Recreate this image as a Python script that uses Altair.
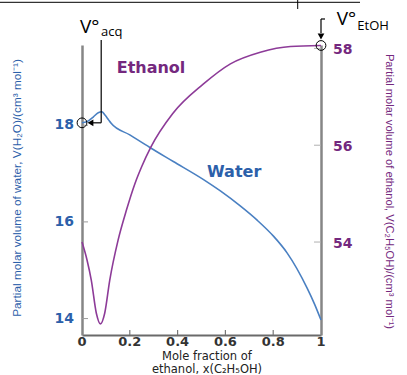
import altair as alt
import pandas as pd

# ---------------- data ----------------
water_x = [0.000, 0.020, 0.047, 0.068, 0.083, 0.096, 0.110, 0.122, 0.200, 0.284,
           0.382, 0.507, 0.579, 0.662, 0.734, 0.802, 0.858, 0.942, 0.973, 1.000]
water_v = [18.05, 18.07, 18.17, 18.26, 18.28, 18.21, 18.12, 18.04, 17.80, 17.54,
           17.25, 16.88, 16.64, 16.33, 16.03, 15.70, 15.36, 14.63, 14.30, 13.97]

eth_x = [0.000, 0.021, 0.039, 0.060, 0.077, 0.095, 0.116, 0.151, 0.186, 0.221,
         0.250, 0.288, 0.379, 0.507, 0.621, 0.746, 0.872, 1.000]
eth_v = [54.00, 53.63, 53.21, 52.53, 52.31, 52.53, 53.21, 54.04, 54.66, 55.20,
         55.56, 55.96, 56.65, 57.26, 57.68, 57.92, 58.04, 58.06]

x_ticks = [0, 0.2, 0.4, 0.6, 0.8, 1]
x_tick_labels = ["0", "0.2", "0.4", "0.6", "0.8", "1"]
x_inner_ticks = [0.2, 0.4, 0.6, 0.8]
water_ticks = [14, 16, 18]
water_tick_labels = ["14", "16", "18"]
eth_ticks = [54, 56, 58]
eth_tick_labels = ["54", "56", "58"]

x_title_lines = ["Mole fraction of", "ethanol, x(C₂H₅OH)"]
water_title = "Partial molar volume of water, V(H₂O)/(cm³ mol⁻¹)"
eth_title = "Partial molar volume of ethanol, V(C₂H₅OH)/(cm³ mol⁻¹)"

V_WATER = water_v[0]   # pure water
V_ETOH = eth_v[-1]     # pure ethanol

# ---------------- styling ----------------
BLUE_LINE = "#4a80c2"
PURPLE_LINE = "#8d3b98"
BLUE_TEXT = "#2c60aa"
PURPLE_TEXT = "#74287e"
AXIS_GRAY = "#868686"
TICK_GRAY = "#9a9a9a"

W, H = 239, 290

x_scale = alt.Scale(domain=[0, 1], nice=False, zero=False)
yw_scale = alt.Scale(domain=[13.66, 19.66], nice=False, zero=False)
ye_scale = alt.Scale(domain=[52.08, 58.07], nice=False, zero=False)

x_axis = alt.Axis(orient="bottom", domain=True, domainColor="#6a6a6a", domainWidth=2,
                  ticks=False, labels=False, grid=False, title=None)
yw_axis = alt.Axis(orient="left", domain=True, domainColor=AXIS_GRAY, domainWidth=2.5,
                   ticks=False, labels=False, grid=False, title=None)
ye_axis = alt.Axis(orient="right", domain=True, domainColor=AXIS_GRAY, domainWidth=2.5,
                   ticks=False, labels=False, grid=False, title=None)


def X(field):
    return alt.X(field, type="quantitative", scale=x_scale, axis=x_axis)


def YW(field):
    return alt.Y(field, type="quantitative", scale=yw_scale, axis=None)


def YE(field):
    return alt.Y(field, type="quantitative", scale=ye_scale, axis=None)


one = alt.Data(values=[{"k": 0}])

water_df = pd.DataFrame({"x": water_x, "v": water_v})
eth_df = pd.DataFrame({"x": eth_x, "v": eth_v})

layers = []

# curves (carry the two axes)
layers.append(alt.Chart(water_df).mark_line(color=BLUE_LINE, strokeWidth=1.6, interpolate="monotone")
              .encode(x=X("x"), y=alt.Y("v:Q", scale=yw_scale, axis=yw_axis)))
layers.append(alt.Chart(eth_df).mark_line(color=PURPLE_LINE, strokeWidth=1.6, interpolate="monotone")
              .encode(x=X("x"), y=alt.Y("v:Q", scale=ye_scale, axis=ye_axis)))

# inward ticks
layers.append(alt.Chart(pd.DataFrame({"t": water_ticks})).mark_rule(color=TICK_GRAY, strokeWidth=1)
              .encode(x=alt.value(0), x2=alt.value(6), y=YW("t")))
layers.append(alt.Chart(pd.DataFrame({"t": eth_ticks})).mark_rule(color="#b0b0b0", strokeWidth=1)
              .encode(x=alt.value(W - 7), x2=alt.value(W), y=YE("t")))
layers.append(alt.Chart(pd.DataFrame({"t": x_inner_ticks})).mark_rule(color="#777777", strokeWidth=1.2)
              .encode(x=X("t"), y=alt.value(H), y2=alt.value(H - 5)))

# tick labels
layers.append(alt.Chart(pd.DataFrame({"t": x_ticks, "lab": x_tick_labels}))
              .mark_text(font="DejaVu Sans", fontWeight="bold", fontSize=13,
                         color="#333333", align="center", baseline="middle")
              .encode(x=X("t"), y=alt.value(H + 6.5), text="lab:N"))
layers.append(alt.Chart(pd.DataFrame({"t": water_ticks, "lab": water_tick_labels}))
              .mark_text(font="DejaVu Sans", fontWeight="bold", fontSize=14,
                         color=BLUE_TEXT, align="right", baseline="middle")
              .encode(x=alt.value(-8), y=YW("t"), text="lab:N"))
layers.append(alt.Chart(pd.DataFrame({"t": eth_ticks, "lab": eth_tick_labels}))
              .mark_text(font="DejaVu Sans", fontWeight="bold", fontSize=14,
                         color=PURPLE_TEXT, align="left", baseline="middle", dy=2)
              .encode(x=alt.value(W + 12), y=YE("t"), text="lab:N"))

# pure-component markers
layers.append(alt.Chart(pd.DataFrame({"x": [0], "v": [V_WATER]}))
              .mark_point(shape="circle", filled=False, color="black", strokeWidth=1, size=95, opacity=1)
              .encode(x=X("x"), y=YW("v")))
layers.append(alt.Chart(pd.DataFrame({"x": [1], "v": [V_ETOH]}))
              .mark_point(shape="circle", filled=False, color="black", strokeWidth=1, size=95, opacity=1)
              .encode(x=X("x"), y=YE("v")))

# arrow to V°(water)
yw_datum = alt.YDatum(V_WATER, scale=yw_scale, axis=None)
layers.append(alt.Chart(one).mark_rule(color="black", strokeWidth=1.2)
              .encode(x=alt.value(19.2), y=yw_datum, y2=alt.value(-5)))
layers.append(alt.Chart(one).mark_rule(color="black", strokeWidth=1.2)
              .encode(x=alt.value(19.2), x2=alt.value(11), y=yw_datum))
layers.append(alt.Chart(one).mark_point(shape="triangle-left", filled=True, color="black", size=45, opacity=1)
              .encode(x=alt.value(8.5), y=yw_datum))

# arrow to V°(ethanol)
x_one = alt.XDatum(1, scale=x_scale, axis=x_axis)
layers.append(alt.Chart(one).mark_rule(color="black", strokeWidth=1.2)
              .encode(x=x_one, x2=alt.value(W + 4), y=alt.value(-26)))
layers.append(alt.Chart(one).mark_rule(color="black", strokeWidth=1.2)
              .encode(x=x_one, y=alt.value(-26), y2=alt.value(-12)))
layers.append(alt.Chart(one).mark_point(shape="triangle-down", filled=True, color="black", size=45, opacity=1)
              .encode(x=x_one, y=alt.value(-8.5)))

# top frame line with its small tick
layers.append(alt.Chart(one).mark_rule(color="black", strokeWidth=1)
              .encode(x=alt.value(-82), x2=alt.value(278), y=alt.value(-42.7)))
layers.append(alt.Chart(one).mark_rule(color="black", strokeWidth=1)
              .encode(x=alt.value(215.7), y=alt.value(-45), y2=alt.value(-36)))


def label(text, x, y, **kw):
    return alt.Chart(one).mark_text(text=text, **kw).encode(x=alt.value(x), y=alt.value(y))


# series labels
layers.append(label("Ethanol", 34.7, 28.3, align="left", baseline="alphabetic", font="DejaVu Sans",
                    fontWeight="bold", fontSize=16, color=PURPLE_TEXT))
layers.append(label("Water", 125, 131.7, align="left", baseline="alphabetic", font="DejaVu Sans",
                    fontWeight="bold", fontSize=16, color=BLUE_TEXT))

# V° annotations
layers.append(label("V°", -2, -12.3, align="left", baseline="alphabetic", font="Open Sans",
                    fontSize=19, color="black"))
layers.append(label("acq", 19, -9, align="left", baseline="alphabetic", font="Open Sans",
                    fontSize=13, color="black"))
layers.append(label("V°", 254.7, -20, align="left", baseline="alphabetic", font="Open Sans",
                    fontSize=19, color="black"))
layers.append(label("EtOH", 275.3, -15, align="left", baseline="alphabetic", font="Open Sans",
                    fontSize=13, color="black"))

# axis titles
layers.append(label(x_title_lines, 125, 314.5, align="center", baseline="alphabetic",
                    font="DejaVu Sans", fontSize=11.5, lineHeight=13, color="#222222"))
layers.append(label(water_title, -65, 143, angle=270,
                    align="center", baseline="middle", font="Liberation Sans", fontSize=11.8,
                    color=BLUE_TEXT))
layers.append(label(eth_title, 307, 146.5, angle=90,
                    align="center", baseline="middle", font="Liberation Sans", fontSize=11.2,
                    color=PURPLE_TEXT))

chart = (
    alt.layer(*layers)
    .resolve_scale(y="independent")
    .properties(width=W, height=H,
                autosize=alt.AutoSizeParams(type="none"),
                padding={"left": 82, "top": 45, "right": 86, "bottom": 40},
                background="white")
    .configure_view(stroke=None)
)

chart.save("out.html", embed_options={"renderer": "svg", "actions": False})
